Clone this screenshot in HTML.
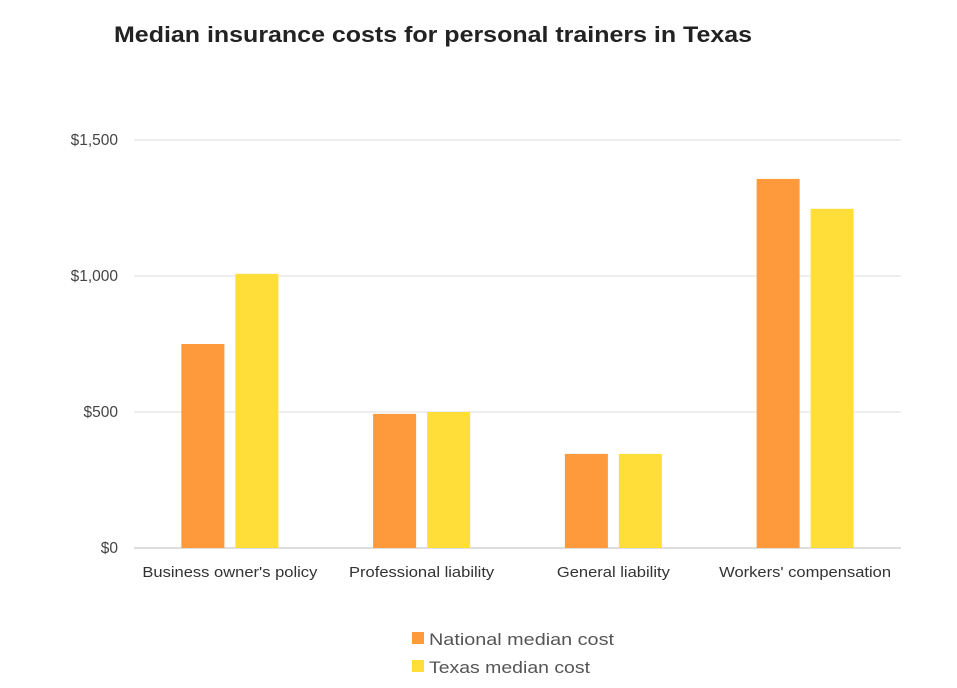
<!DOCTYPE html>
<html><head><meta charset="utf-8"><style>
body{margin:0;background:#fff;width:957px;height:683px;overflow:hidden;font-family:"Liberation Sans",sans-serif}
</style></head><body>
<svg id="chart" width="957" height="683">
<text x="114" y="42" font-size="22" font-weight="bold" fill="#222" textLength="638" lengthAdjust="spacingAndGlyphs">Median insurance costs for personal trainers in Texas</text>
<g id="grid"></g><g id="bars"></g><g id="xl"></g>
<g>
<rect x="412" y="632" width="12" height="12" fill="#FF9A3C"/>
<text x="429" y="645" font-size="17" fill="#555" textLength="185" lengthAdjust="spacingAndGlyphs">National median cost</text>
<rect x="412" y="660" width="12" height="12" fill="#FFDE3A"/>
<text x="429" y="673" font-size="17" fill="#555" textLength="161" lengthAdjust="spacingAndGlyphs">Texas median cost</text>
</g>
</svg>
<script>
const categories=["Business owner's policy","Professional liability","General liability","Workers' compensation"];
const national=[750,493,346,1357];
const texas=[1008,500,346,1247];
const ticks=[0,500,1000,1500];
const tickLabels=["$0","$500","$1,000","$1,500"];
const NS="http://www.w3.org/2000/svg";
const x0=134,x1=901,y0=548,y1=140,max=1500;
const y=v=>y0-(v/max)*(y0-y1);
const gw=(x1-x0)/categories.length;
function mk(t,a,p){const e=document.createElementNS(NS,t);for(const k in a)e.setAttribute(k,a[k]);p.appendChild(e);return e;}
const g=document.getElementById('grid');
ticks.forEach((t,i)=>{
 const l=mk('line',{x1:x0,x2:x1,y1:y(t),y2:y(t),stroke:i==0?'#bbb':'#ddd','stroke-width':1},g);
 
 
 const tx=mk('text',{x:118,y:y(t)+5,'text-anchor':'end','font-size':15.5,fill:'#444'},g);
 tx.textContent=tickLabels[i];
 
 
});
const b=document.getElementById('bars'),xl=document.getElementById('xl');
categories.forEach((c,i)=>{
 const cx=x0+gw*(i+0.5);
 const r1=mk('rect',{x:cx-48.5,y:y(national[i]),width:43,height:y0-y(national[i]),fill:'#FF9A3C'},b);
 
 
 const r2=mk('rect',{x:cx+5.5,y:y(texas[i]),width:43,height:y0-y(texas[i]),fill:'#FFDE3A'},b);
 
 
 const t=mk('text',{x:cx,y:577,'text-anchor':'middle','font-size':14.5,fill:'#333'},xl);
 t.textContent=c;
 
 
 const w=t.getComputedTextLength();
 t.setAttribute('textLength',w*1.14);
 t.setAttribute('lengthAdjust','spacingAndGlyphs');
});
</script>
</body></html>
